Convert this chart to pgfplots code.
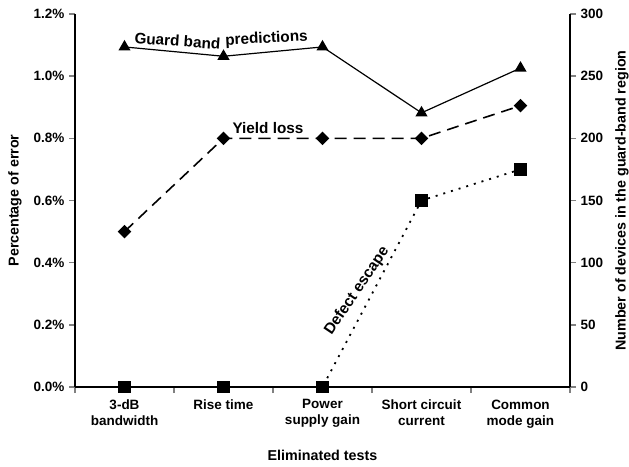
\documentclass[border=0pt]{standalone}
\usepackage{pgfplots}
\pgfplotsset{compat=1.18}
\usepackage{fontspec}
\setmainfont{Liberation Sans}
\begin{document}
\fontsize{13.5}{15}\selectfont\bfseries
\begin{tikzpicture}[x=1pt,y=1pt]
\useasboundingbox (-75,-79) rectangle (554,387);
\begin{axis}[
  at={(0,0)}, anchor=south west,
  scale only axis, width=495pt, height=373pt,
  xmin=0.5, xmax=5.5, ymin=0, ymax=1.2,
  axis x line*=bottom, axis y line*=left,
  axis line style={line width=1.6pt},
  xtick={1,2,3,4,5},
  xticklabels={3-dB\\bandwidth, Rise time, Power\\supply gain, Short circuit\\current, Common\\mode gain},
  xticklabel style={align=center, font=\fontsize{13.5}{16}\selectfont\bfseries, yshift=-2pt},
  major x tick style={draw=none},
  minor xtick={0.5,1.5,2.5,3.5,4.5,5.5},
  minor x tick style={line width=1.4pt},
  minor tick length=6pt,
  ytick={0,0.2,0.4,0.6,0.8,1.0,1.2},
  yticklabels={0.0\%,0.2\%,0.4\%,0.6\%,0.8\%,1.0\%,1.2\%},
  yticklabel style={font=\fontsize{13.5}{15}\selectfont\bfseries},
  y tick style={line width=1.4pt},
  major tick length=6pt,
  tick align=outside,
  xlabel={Eliminated tests},
  xlabel style={font=\fontsize{14.3}{16}\selectfont\bfseries, at={(axis description cs:0.5,0)}, anchor=center, yshift=-68pt},
  clip=false,
]
\addplot[black, line width=1.6pt, dash pattern=on 12pt off 7pt, mark=square*, mark size=4pt, mark options={solid, rotate=45}]
  coordinates {(1,0.5) (2,0.8) (3,0.8) (4,0.8) (5,0.905)};
\addplot[black, line width=1.8pt, dash pattern=on 2pt off 6pt, mark=square*, mark size=5.5pt, mark options={solid}]
  coordinates {(1,0) (2,0) (3,0) (4,0.6) (5,0.70)};
\end{axis}
\begin{axis}[
  at={(0,0)}, anchor=south west,
  scale only axis, width=495pt, height=373pt,
  xmin=0.5, xmax=5.5, ymin=0, ymax=300,
  axis x line=none, axis y line*=right,
  axis line style={line width=1.6pt},
  ytick={0,50,100,150,200,250,300},
  yticklabels={0,50,100,150,200,250,300},
  yticklabel style={font=\fontsize{13.5}{15}\selectfont\bfseries},
  y tick style={line width=1.4pt},
  major tick length=6pt,
  tick align=outside,
  clip=false,
]
\addplot[black, line width=1.2pt, mark=triangle*, mark size=5.8pt]
  coordinates {(1,273.5) (2,266) (3,273.5) (4,220.5) (5,256.5)};
\end{axis}
\node[rotate=90, font=\fontsize{14.3}{16}\selectfont\bfseries] at (-60,186.5) {Percentage of error};
\node[rotate=90, font=\fontsize{14.3}{16}\selectfont\bfseries] at (547,186.5) {Number of devices in the guard-band region};
\begin{scope}[every node/.style={font=\fontsize{15.3}{17}\selectfont\bfseries, inner sep=0pt}]
\node[rotate=-4] at (102.5,346) {Guard band};
\node[rotate=3] at (191.5,348) {predictions};
\node at (193,259) {Yield loss};
\node[rotate=56] at (282,96) {Defect escape};
\end{scope}
\end{tikzpicture}
\end{document}
